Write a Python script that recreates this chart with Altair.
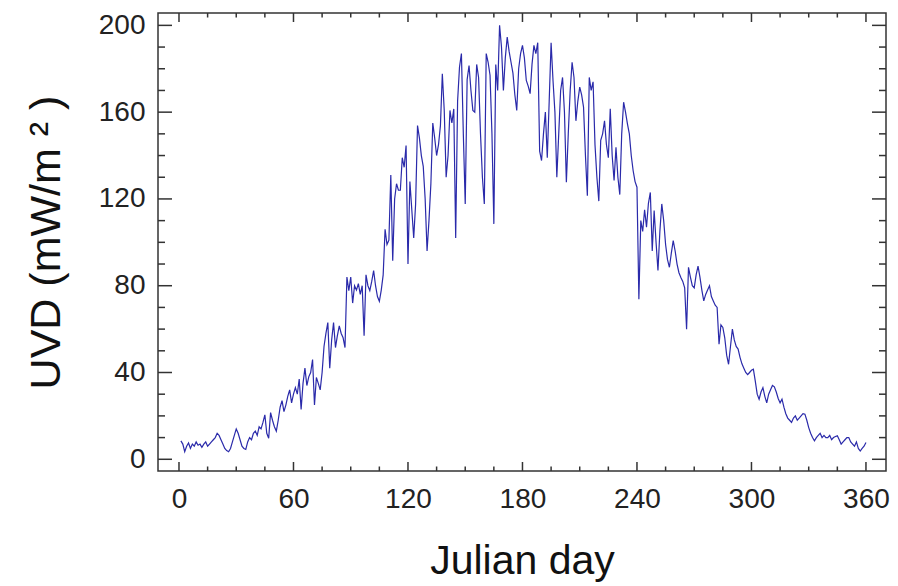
import altair as alt
import pandas as pd

days = list(range(1, 361))
uvd = [
    8.5, 7, 3.5, 6, 7.5, 5, 7, 6, 8, 6.5,
    7, 5.5, 7, 8, 6, 7, 8, 9, 10, 12,
    11, 9, 7, 5, 4, 3.5, 5, 8, 11, 14,
    12, 9, 6, 5, 4.6, 8, 10, 9, 12, 13,
    11, 15, 14, 17, 20.5, 12, 9.7, 21.5, 18, 15,
    13, 18, 24, 27, 22, 25, 29, 32, 26, 30,
    33, 30, 37, 23, 35, 42, 34, 38, 40, 46,
    25, 37.7, 35, 32, 40, 52, 58, 63, 42, 55,
    63, 51.5, 57, 61.5, 58, 56, 51.5, 84, 77.7, 84,
    72, 80, 78, 81, 76, 80, 57, 85, 80, 77.7,
    82, 87, 80, 75, 72.8, 78, 85, 106, 99, 101,
    131, 91.5, 120, 127, 124, 124, 139, 134.6, 144.6, 90,
    128, 115, 102, 117.7, 153.8, 148, 140, 135, 120, 96,
    110, 127, 155, 148, 140, 145, 153.8, 177.7, 160.8, 130,
    140, 160.8, 155, 161.5, 102, 165, 180.8, 187, 150, 117.7,
    175, 181.5, 170, 160.8, 160, 182, 176, 150, 130, 117.7,
    187, 183, 177, 150, 108.5, 182, 170, 200, 190, 170,
    185, 194.6, 188, 183, 178, 168, 160.8, 180, 187, 190.8,
    185, 174.6, 172, 168.5, 182, 190.8, 187, 192, 142, 137.7,
    150, 160, 139, 165, 192, 174.6, 160, 130, 150, 170,
    176, 160, 127.7, 150, 170, 183, 176, 156, 165, 171.5,
    168, 162.3, 140, 121.5, 176, 170, 174, 145, 130, 119,
    147, 150, 156, 145, 139, 161.5, 140, 128.5, 143.8, 130,
    122, 150, 164.6, 160, 154.6, 150, 140, 133, 128, 125.4,
    73.8, 110, 105, 115, 107, 118, 123, 96, 114.6, 100,
    87, 105, 117.7, 110, 99, 92, 88.5, 95, 100.8, 96,
    90, 86, 83.8, 82, 79, 60, 88.5, 84, 80, 79,
    85, 89, 84, 78, 73, 76, 78, 80, 75, 73,
    71, 70, 53, 62, 60.8, 56, 48, 43.8, 52, 60,
    55, 52, 50.8, 47, 44, 42, 40, 39, 40, 41,
    41.5, 36, 30, 27.7, 31, 33, 29, 26, 30, 32,
    34, 33.4, 31, 28, 26, 27.7, 24, 21, 19, 18,
    17, 19, 20, 18, 19, 20, 21, 20.8, 18, 14.6,
    12, 10, 8.5, 10, 11, 12, 10, 11, 10, 10,
    11, 9, 10, 10.5, 10.8, 9, 7, 8, 9, 10,
    10, 8, 7, 6, 8, 5, 3.8, 5, 6, 7.7,
]

x_major = [0, 60, 120, 180, 240, 300, 360]
x_minor = [v for v in range(15, 360, 15) if v % 60 != 0]
y_major = [0, 40, 80, 120, 160, 200]
y_minor = [v for v in range(10, 200, 10) if v % 40 != 0]

W, H = 728, 458
X_DOMAIN = [-11, 370.5]
Y_DOMAIN = [-5.4, 205.7]
FRAME = "#333333"
LINE = "#2a2aaa"
FONT = "Liberation Sans, Arial, sans-serif"

xs = alt.Scale(domain=X_DOMAIN, nice=False, zero=False)
ys = alt.Scale(domain=Y_DOMAIN, nice=False, zero=False)

x_axis = alt.Axis(
    values=x_major, title="Julian day", grid=False, domain=False, ticks=False,
    tickSize=0, labelFont=FONT, labelFontSize=28,
    labelColor="#222222", labelPadding=14, titleFont=FONT,
    titleFontSize=41, titleFontWeight="normal", titleColor="#111111",
    titlePadding=28)
y_axis = alt.Axis(
    values=y_major, title="UVD (mW/m ² )", grid=False, domain=False, ticks=False,
    tickSize=0, labelFont=FONT, labelFontSize=28,
    labelColor="#222222", labelPadding=13, titleFont=FONT,
    titleFontSize=43, titleFontWeight="normal", titleColor="#111111",
    titlePadding=30)

df = pd.DataFrame({"day": days, "uvd": uvd})

line = alt.Chart(df).mark_line(color=LINE, strokeWidth=1.2).encode(
    x=alt.X("day:Q", scale=xs, axis=x_axis),
    y=alt.Y("uvd:Q", scale=ys, axis=y_axis),
)


def xticks(vals, length):
    d = pd.DataFrame({"day": vals})
    bottom = alt.Chart(d).mark_rule(color=FRAME, strokeWidth=1.5).encode(
        x=alt.X("day:Q", scale=xs, axis=x_axis), y=alt.value(H), y2=alt.value(H - length))
    top = alt.Chart(d).mark_rule(color=FRAME, strokeWidth=1.5).encode(
        x=alt.X("day:Q", scale=xs, axis=x_axis), y=alt.value(0), y2=alt.value(length))
    return [bottom, top]


def yticks(vals, length):
    d = pd.DataFrame({"uvd": vals})
    left = alt.Chart(d).mark_rule(color=FRAME, strokeWidth=1.5).encode(
        y=alt.Y("uvd:Q", scale=ys, axis=y_axis), x=alt.value(0), x2=alt.value(length))
    right = alt.Chart(d).mark_rule(color=FRAME, strokeWidth=1.5).encode(
        y=alt.Y("uvd:Q", scale=ys, axis=y_axis), x=alt.value(W), x2=alt.value(W - length))
    return [left, right]


layers = [line] + xticks(x_major, 9) + xticks(x_minor, 4.5) + yticks(y_major, 14) + yticks(y_minor, 7)

chart = alt.layer(*layers).properties(
    width=W, height=H,
    autosize=alt.AutoSizeParams(type="none"),
    padding={"left": 150, "top": 5, "right": 4, "bottom": 113},
    background="white",
).configure_view(stroke=FRAME, strokeWidth=1.5)

chart.save("out.html", embed_options={"renderer": "svg", "actions": False})
